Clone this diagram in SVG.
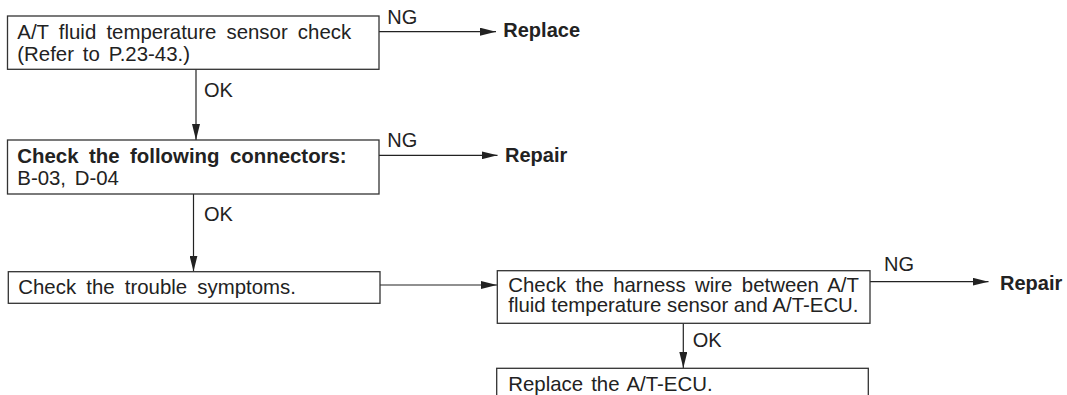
<svg xmlns="http://www.w3.org/2000/svg" width="1067" height="395" viewBox="0 0 1067 395">
<style>
  .box { fill: #ffffff; stroke: #333333; stroke-width: 1.3; }
  .t { font-family: "Liberation Sans", Arial, sans-serif; font-size: 20.4px; fill: #222222; }
  .b { font-weight: bold; }
  .lbl { font-family: "Liberation Sans", Arial, sans-serif; font-size: 20px; fill: #222222; }
  .res { font-family: "Liberation Sans", Arial, sans-serif; font-size: 20px; font-weight: bold; fill: #222222; }
  .c { stroke: #222222; stroke-width: 1.2; fill: none; }
</style>
<defs>
  <marker id="ah" viewBox="0 0 16 8" refX="16" refY="4" markerWidth="16" markerHeight="8" markerUnits="userSpaceOnUse" orient="auto">
    <path d="M0,0 L16,4 L0,8 z" fill="#222222"/>
  </marker>
</defs>
<rect width="1067" height="395" fill="#ffffff"/>

<g id="connectors">
  <line class="c" x1="379" y1="31.7" x2="496" y2="31.7" marker-end="url(#ah)"/>
  <line class="c" x1="196" y1="69.3" x2="196" y2="140" marker-end="url(#ah)"/>
  <line class="c" x1="379" y1="155.3" x2="497.5" y2="155.3" marker-end="url(#ah)"/>
  <line class="c" x1="193.5" y1="194" x2="193.5" y2="271.5" marker-end="url(#ah)"/>
  <line class="c" x1="380" y1="285" x2="497" y2="285" marker-end="url(#ah)"/>
  <line class="c" x1="870" y1="281.7" x2="988.5" y2="281.7" marker-end="url(#ah)"/>
  <line class="c" x1="683.3" y1="323.3" x2="683.3" y2="368" marker-end="url(#ah)"/>
  <text class="lbl" x="387.3" y="24">NG</text>
  <text class="lbl" x="204" y="97.3">OK</text>
  <text class="lbl" x="387.3" y="147.3">NG</text>
  <text class="lbl" x="204" y="220.7">OK</text>
  <text class="lbl" x="884" y="270.7">NG</text>
  <text class="lbl" x="692.7" y="346.7">OK</text>
</g>

<g id="node-sensor-check">
  <rect class="box" x="7.5" y="16" width="371.5" height="53.3"/>
  <text class="t" x="17.3" y="39.3" word-spacing="4.5">A/T fluid temperature sensor check</text>
  <text class="t" x="17.3" y="61" word-spacing="3.2">(Refer to P.23-43.)</text>
</g>

<g id="node-replace">
  <text class="res" x="503.3" y="37">Replace</text>
</g>

<g id="node-connectors">
  <rect class="box" x="7.5" y="140" width="371.5" height="54"/>
  <text class="t b" x="17.3" y="162.5" word-spacing="4.8">Check the following connectors:</text>
  <text class="t" x="17.3" y="185" word-spacing="3">B-03, D-04</text>
</g>

<g id="node-repair-1">
  <text class="res" x="505" y="162">Repair</text>
</g>

<g id="node-symptoms">
  <rect class="box" x="8.3" y="271.7" width="371.7" height="31.6"/>
  <text class="t" x="18.3" y="294" word-spacing="4.5">Check the trouble symptoms.</text>
</g>

<g id="node-harness">
  <rect class="box" x="497.3" y="270.7" width="372.7" height="52.6"/>
  <text class="t" x="508.3" y="291.7" word-spacing="3.7">Check the harness wire between A/T</text>
  <text class="t" x="508.3" y="312">fluid temperature sensor and A/T-ECU.</text>
</g>

<g id="node-repair-2">
  <text class="res" x="1000" y="290">Repair</text>
</g>

<g id="node-replace-ecu">
  <rect class="box" x="496.7" y="368.3" width="371.6" height="40"/>
  <text class="t" x="508.3" y="390.7" word-spacing="2.4">Replace the A/T-ECU.</text>
</g>
</svg>
